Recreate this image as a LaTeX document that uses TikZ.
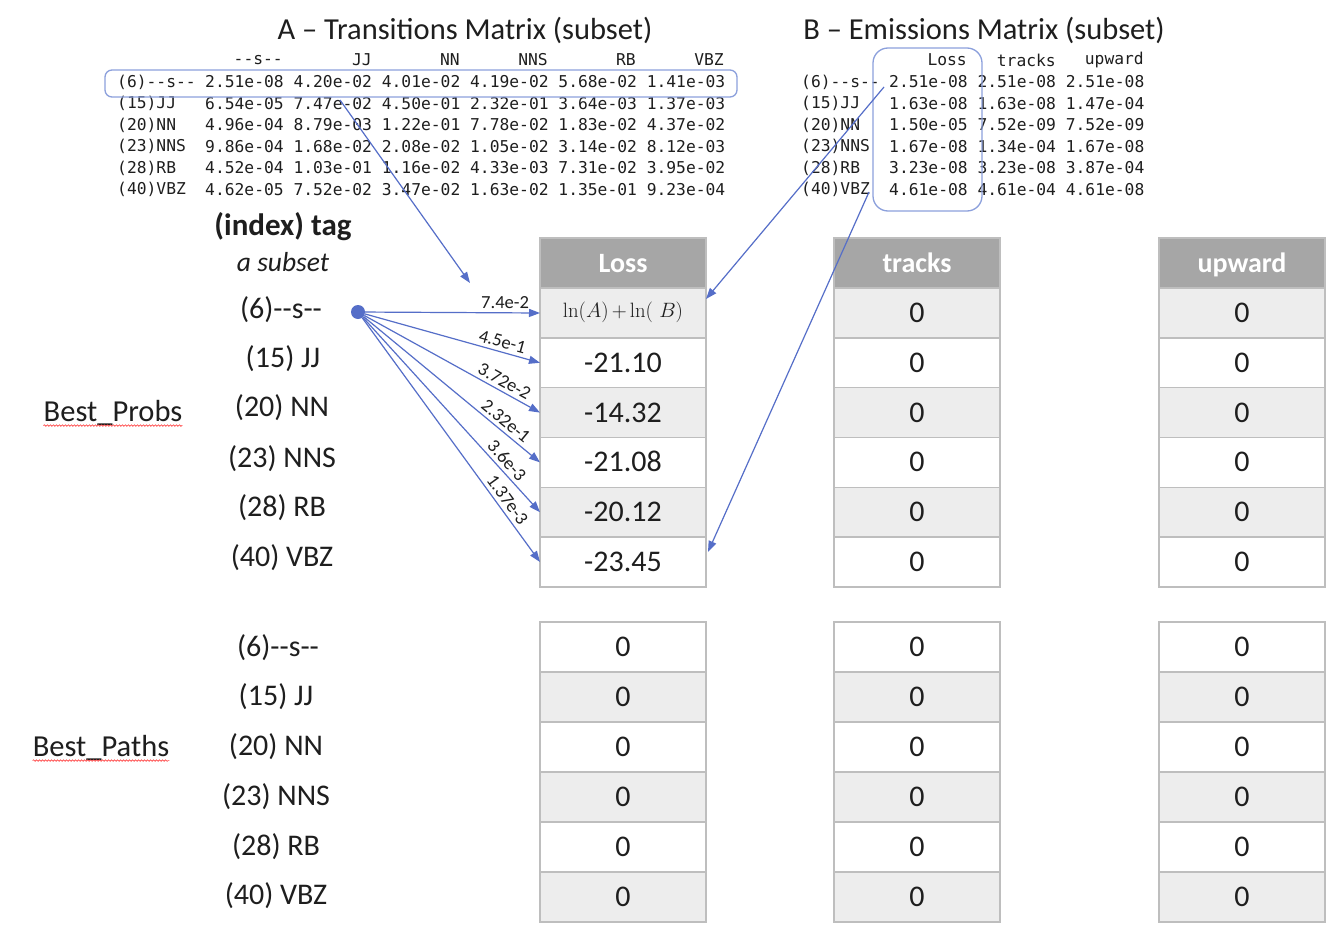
\documentclass[tikz,border=0pt]{standalone}
\usepackage{fontspec}
\setmainfont{Carlito}
\newfontfamily\mono{DejaVu Sans Mono}
\usetikzlibrary{arrows.meta,decorations.pathmorphing}
\definecolor{arrowblue}{RGB}{85,110,200}
\definecolor{boxblue}{RGB}{140,160,220}
\definecolor{hdrgray}{RGB}{166,166,166}
\definecolor{rowgray}{RGB}{237,237,237}
\definecolor{bordergray}{RGB}{190,190,190}
\definecolor{txt}{RGB}{30,30,30}
\newcommand\fsz[1]{\fontsize{#1}{#1}\selectfont}
\newcommand\dd{-\kern0pt-}
\newcommand\lmrtext{\fontencoding{OT1}\fontfamily{lmr}\selectfont}
\tikzset{
  mtx/.style={font=\mono\fsz{16.3}, inner sep=0, anchor=west, text=txt},
  mhd/.style={font=\mono\fsz{16.3}, inner sep=0, anchor=east, text=txt},
  cellw/.style={draw=bordergray, line width=1.5pt, fill=white, minimum width=166pt, minimum height=49.8pt, inner sep=0, outer sep=0, font=\fsz{30}, text=txt, text height=21.5pt, text depth=2.5pt},
  cellg/.style={cellw, fill=rowgray},
  hdr/.style={cellw, fill=hdrgray, text=white, font=\bfseries\fsz{28}},
  tag/.style={font=\fsz{30}, inner sep=0, text=txt},
  ttl/.style={font=\fsz{30.5}, inner sep=0, text=txt},
  conn/.style={draw=arrowblue, line width=1.2pt, -{Triangle[length=11pt,width=8pt]}},
  plab/.style={font=\fsz{18.5}, sloped, above, pos=0.77, inner sep=3.5pt, text=txt},
  selbox/.style={draw=boxblue, line width=1.3pt, inner sep=0},
  spell/.style={draw=red!80, line width=0.6pt, decorate, decoration={snake, amplitude=0.8pt, segment length=3pt}}
}
\begin{document}
\begin{tikzpicture}[x=1pt,y=-1pt]
\fill[white] (0,0) rectangle (1344,926);
\useasboundingbox (0,0) rectangle (1344,926);

% titles
\node[ttl] (titleA) at (465,30) {A – Transitions Matrix (subset)};
\node[ttl] (titleB) at (984,30) {B – Emissions Matrix (subset)};

% Matrix A
\node[mhd] (ah1) at (283,60) {\dd s\dd};
\node[mhd] (ah2) at (372,60) {JJ};
\node[mhd] (ah3) at (460,60) {NN};
\node[mhd] (ah4) at (548,60) {NNS};
\node[mhd] (ah5) at (636,60) {RB};
\node[mhd] (ah6) at (724,60) {VBZ};
\node[mtx] (ar1) at (117,82) {(6)\dd s\dd};
\node[mtx] (ar2) at (117,103.5) {(15)JJ};
\node[mtx] (ar3) at (117,125) {(20)NN};
\node[mtx] (ar4) at (117,146.5) {(23)NNS};
\node[mtx] (ar5) at (117,168) {(28)RB};
\node[mtx] (ar6) at (117,189.5) {(40)VBZ};
\node[mtx] (ad1) at (205,82) {2.51e-08 4.20e-02 4.01e-02 4.19e-02 5.68e-02 1.41e-03};
\node[mtx] (ad2) at (205,103.5) {6.54e-05 7.47e-02 4.50e-01 2.32e-01 3.64e-03 1.37e-03};
\node[mtx] (ad3) at (205,125) {4.96e-04 8.79e-03 1.22e-01 7.78e-02 1.83e-02 4.37e-02};
\node[mtx] (ad4) at (205,146.5) {9.86e-04 1.68e-02 2.08e-02 1.05e-02 3.14e-02 8.12e-03};
\node[mtx] (ad5) at (205,168) {4.52e-04 1.03e-01 1.16e-02 4.33e-03 7.31e-02 3.95e-02};
\node[mtx] (ad6) at (205,189.5) {4.62e-05 7.52e-02 3.47e-02 1.63e-02 1.35e-01 9.23e-04};
\node[selbox, rounded corners=7pt, minimum width=632pt, minimum height=27pt] (boxA) at (421,83.5) {};

% Matrix B
\node[mhd] (bh1) at (967,60) {Loss};
\node[mhd] (bh2) at (1056,60) {tracks};
\node[mhd] (bh3) at (1144,60) {upward};
\node[mtx] (br1) at (801,82) {(6)\dd s\dd};
\node[mtx] (br2) at (801,103.5) {(15)JJ};
\node[mtx] (br3) at (801,125) {(20)NN};
\node[mtx] (br4) at (801,146.5) {(23)NNS};
\node[mtx] (br5) at (801,168) {(28)RB};
\node[mtx] (br6) at (801,189.5) {(40)VBZ};
\node[mtx] (bd1) at (889,82) {2.51e-08 2.51e-08 2.51e-08};
\node[mtx] (bd2) at (889,103.5) {1.63e-08 1.63e-08 1.47e-04};
\node[mtx] (bd3) at (889,125) {1.50e-05 7.52e-09 7.52e-09};
\node[mtx] (bd4) at (889,146.5) {1.67e-08 1.34e-04 1.67e-08};
\node[mtx] (bd5) at (889,168) {3.23e-08 3.23e-08 3.87e-04};
\node[mtx] (bd6) at (889,189.5) {4.61e-08 4.61e-04 4.61e-08};
\node[selbox, rounded corners=15pt, minimum width=109pt, minimum height=163pt] (boxB) at (927.5,129.5) {};

% left labels
\node[font=\bfseries\fsz{31}, inner sep=0, text=txt] (idx) at (283,227) {(index) tag};
\node[font=\itshape\fsz{27.5}, inner sep=0, text=txt] (sub) at (283,262) {a subset};
\node[tag] (t1) at (281,310) {(6)\dd s\dd};
\node[tag] (t2) at (283,359) {(15) JJ};
\node[tag] (t3) at (282,408) {(20) NN};
\node[tag] (t4) at (282,459) {(23) NNS};
\node[tag] (t5) at (282,508) {(28) RB};
\node[tag] (t6) at (282,558) {(40) VBZ};
\node[tag, font=\fsz{30.5}] (bp) at (113,413) {Best\_Probs};
\draw[spell] ([yshift=-4pt]bp.base west) -- ([yshift=-4pt]bp.base east);

\node[tag] (p1) at (278,648) {(6)\dd s\dd};
\node[tag] (p2) at (276,697) {(15) JJ};
\node[tag] (p3) at (276,747) {(20) NN};
\node[tag] (p4) at (276,797) {(23) NNS};
\node[tag] (p5) at (276,847) {(28) RB};
\node[tag] (p6) at (276,896) {(40) VBZ};
\node[tag, font=\fsz{30.5}] (bpa) at (101,748) {Best\_Paths};
\draw[spell] ([yshift=-4pt]bpa.base west) -- ([yshift=-4pt]bpa.base east);

% Best_Probs tables
\node[hdr] (L0) at (623,263) {Loss};
\node[cellg, font=\fsz{21}, text height=14pt, text depth=5pt] (L1) at (623,313) {\lmrtext ln($A$)\,+\,ln( $B$)};
\node[cellw] (L2) at (623,362.8) {-21.10};
\node[cellg] (L3) at (623,412.6) {-14.32};
\node[cellw] (L4) at (623,462.4) {-21.08};
\node[cellg] (L5) at (623,512.2) {-20.12};
\node[cellw] (L6) at (623,562) {-23.45};

\node[hdr] (T0) at (917,263) {tracks};
\node[cellg] (T1) at (917,313) {0};
\node[cellw] (T2) at (917,362.8) {0};
\node[cellg] (T3) at (917,412.6) {0};
\node[cellw] (T4) at (917,462.4) {0};
\node[cellg] (T5) at (917,512.2) {0};
\node[cellw] (T6) at (917,562) {0};

\node[hdr] (U0) at (1242,263) {upward};
\node[cellg] (U1) at (1242,313) {0};
\node[cellw] (U2) at (1242,362.8) {0};
\node[cellg] (U3) at (1242,412.6) {0};
\node[cellw] (U4) at (1242,462.4) {0};
\node[cellg] (U5) at (1242,512.2) {0};
\node[cellw] (U6) at (1242,562) {0};

% Best_Paths tables
\node[cellw] (PL1) at (623,647) {0};
\node[cellg] (PL2) at (623,697) {0};
\node[cellw] (PL3) at (623,747) {0};
\node[cellg] (PL4) at (623,797) {0};
\node[cellw] (PL5) at (623,847) {0};
\node[cellg] (PL6) at (623,897) {0};

\node[cellw] (PT1) at (917,647) {0};
\node[cellg] (PT2) at (917,697) {0};
\node[cellw] (PT3) at (917,747) {0};
\node[cellg] (PT4) at (917,797) {0};
\node[cellw] (PT5) at (917,847) {0};
\node[cellg] (PT6) at (917,897) {0};

\node[cellw] (PU1) at (1242,647) {0};
\node[cellg] (PU2) at (1242,697) {0};
\node[cellw] (PU3) at (1242,747) {0};
\node[cellg] (PU4) at (1242,797) {0};
\node[cellw] (PU5) at (1242,847) {0};
\node[cellg] (PU6) at (1242,897) {0};

% dot and transition arrows
\node[circle, fill=arrowblue, inner sep=0, minimum size=14pt] (dot) at (358,312) {};
\draw[conn] (dot) -- node[plab, pos=0.8] {7.4e-2} (L1.west);
\draw[conn] (dot) -- node[plab] {4.5e-1} (L2.west);
\draw[conn] (dot) -- node[plab] {3.72e-2} (L3.west);
\draw[conn] (dot) -- node[plab] {2.32e-1} (L4.west);
\draw[conn] (dot) -- node[plab] {3.6e-3} (L5.west);
\draw[conn] (dot) -- node[plab] {1.37e-3} (L6.west);

% matrix arrows
\coordinate (aS) at (340,100);
\coordinate (aE) at (470,283);
\draw[conn] (aS) -- (aE);
\coordinate (bS1) at (884,87);
\coordinate (bE1) at (706,299);
\draw[conn] (bS1) -- (bE1);
\coordinate (bS2) at (869,192);
\coordinate (bE2) at (708,552);
\draw[conn] (bS2) -- (bE2);
\end{tikzpicture}
\end{document}
